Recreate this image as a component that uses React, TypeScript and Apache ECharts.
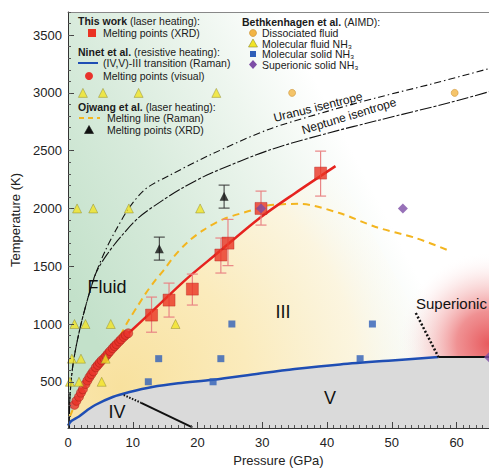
import React, { useEffect, useRef } from "react";
import * as echarts from "echarts";

const X_MIN = 0, X_MAX = 65, Y_MIN = 100, Y_MAX = 3700;
const xTickLabels = [0, 10, 20, 30, 40, 50, 60];
const yTickLabels = [500, 1000, 1500, 2000, 2500, 3000, 3500];

// This work (laser heating)
const thisWorkMelting = [[12.9, 1077], [15.6, 1207], [19.2, 1302], [23.6, 1597], [24.7, 1700], [29.8, 2000], [39.0, 2306]];
const thisWorkErrors = [[12.9, 929, 1233], [15.6, 1060, 1354], [19.2, 1164, 1432], [23.6, 1441, 1744], [24.7, 1505, 1905], [29.8, 1856, 2150], [39.0, 2107, 2496]];
const thisWorkMeltLine = [[9.3, 918], [13, 1110], [18.1, 1380], [23, 1610], [29.6, 1917], [35, 2130], [41.3, 2366]];

// Ninet et al.
const ninetTransition = [[0, 120], [0.5, 160], [1.7, 200], [3, 255], [4.2, 299], [6.9, 368], [9.5, 411], [13, 455], [17, 487], [22.4, 518], [29.6, 572], [35, 610], [42, 650], [50, 685], [57.2, 714]];
const ninetMelting = [[1.0, 300], [1.3, 335], [1.7, 370], [2.0, 405], [2.3, 435], [2.7, 480], [3.0, 510], [3.3, 540], [3.6, 565], [3.9, 590], [4.3, 625], [4.6, 645], [4.9, 665], [5.2, 685], [5.6, 705], [5.9, 725], [6.2, 745], [6.5, 765], [6.9, 790], [7.2, 808], [7.5, 825], [7.9, 848], [8.2, 866], [8.6, 888], [8.9, 905], [9.3, 920]];

// Ojwang et al.
const ojwangMeltLine = [[0.3, 200], [2, 420], [4, 620], [6, 760], [7.9, 887], [9.2, 1017], [10.8, 1160], [12, 1265], [13.5, 1380], [14.7, 1460], [16.3, 1580], [18.5, 1710], [20.9, 1813], [24, 1908], [28.5, 1986], [30.7, 2025], [35.7, 2040], [41.9, 1960], [47.5, 1840], [53.7, 1744], [59, 1631]];
const ojwangMelting = [[14.1, 1652], [24.1, 2105]];
const ojwangErrors = [[14.1, 1553, 1752], [24.1, 2003, 2202]];

// Bethkenhagen et al. (AIMD)
const bethDissociated = [[34.6, 3000], [59.7, 3000]];
const bethMolFluid = [[2.3, 3000], [5.4, 3000], [10.9, 3000], [22.9, 3000], [1.4, 2000], [3.9, 2000], [9.4, 2000], [20.4, 2000], [1.0, 1000], [2.7, 1000], [6.6, 1000], [16.6, 1000], [0.6, 700], [2.0, 700], [5.8, 700], [0.3, 500], [1.7, 500], [5.2, 500]];
const bethMolSolid = [[25.3, 1000], [47, 1000], [14.0, 700], [23.6, 700], [45.1, 700], [12.4, 500], [22.4, 500]];
const bethSuperionic = [[29.8, 2000], [51.7, 2000], [65, 712]];

// Phase boundaries
const ivVDotted = [[8.6, 385], [11.3, 318]];
const ivVSolid = [[11.3, 318], [19.2, 105]];
const superionicDotted = [[53.7, 1095], [57.2, 714]];
const superionicSolid = [[57.2, 714], [65, 714]];
const superionicGlowCenter = [65, 830];

// Isentropes
const uranusIsentrope = [[0.2, 100], [0.3, 370], [0.8, 660], [1.8, 950], [3.1, 1230], [4.3, 1440], [5.8, 1640], [7.4, 1813], [9.5, 2010], [12, 2170], [15.8, 2290], [21.9, 2462], [30.7, 2678], [40, 2840], [48, 2963], [56, 3075], [65, 3210]];
const neptuneIsentrope = [[0.2, 100], [0.3, 370], [0.8, 660], [1.8, 950], [3.1, 1230], [4.3, 1440], [6, 1600], [8.1, 1752], [11, 1925], [14.6, 2070], [17.6, 2175], [21.9, 2300], [31.1, 2505], [40, 2650], [48, 2764], [59.2, 2920], [65, 3010]];

const FONT = "'Liberation Sans', Arial, Helvetica, sans-serif";
const TXT = "#1a1a1a";
const LFS = 10.5;

function line(name: string, data: number[][], color: string, width: number, type: any, smooth: number | boolean = 0.3, z = 3) {
  return {
    name, type: "line", data, smooth, symbol: "none", showSymbol: false, z, silent: true,
    lineStyle: { color, width, type },
  };
}

function errorSeries(name: string, data: number[][], color: string, width: number) {
  return {
    name, type: "custom", data, z: 4, silent: true,
    encode: { x: 0, y: [1, 2] },
    renderItem: (params: any, api: any) => {
      const x = api.value(0), lo = api.value(1), hi = api.value(2);
      const a = api.coord([x, lo]);
      const b = api.coord([x, hi]);
      const st = { stroke: color, lineWidth: width };
      return {
        type: "group",
        children: [
          { type: "line", shape: { x1: a[0], y1: a[1], x2: b[0], y2: b[1] }, style: st },
          { type: "line", shape: { x1: a[0] - 5.5, y1: a[1], x2: a[0] + 5.5, y2: a[1] }, style: st },
          { type: "line", shape: { x1: b[0] - 5.5, y1: b[1], x2: b[0] + 5.5, y2: b[1] }, style: st },
        ],
      };
    },
  };
}

function legendText(x: number, y: number, text: string) {
  return { type: "text", x, y, z: 100, style: { text, fontSize: LFS, fontFamily: FONT, fill: TXT, textAlign: "left", verticalAlign: "middle", lineHeight: 10 } };
}
function legendHeader(x: number, y: number, bold: string, rest: string) {
  return {
    type: "text", x, y, z: 100,
    style: {
      text: `{b|${bold}}{n|${rest}}`, textAlign: "left", verticalAlign: "middle", fontSize: LFS, fontFamily: FONT, fill: TXT,
      rich: {
        b: { fontSize: LFS, fontFamily: FONT, fontWeight: "bold", fill: TXT },
        n: { fontSize: LFS, fontFamily: FONT, fill: TXT },
      },
    },
  };
}
function tri(x: number, y: number, fill: string, stroke: string) {
  return { type: "polygon", z: 100, shape: { points: [[x, y - 4.5], [x + 4.5, y + 3.5], [x - 4.5, y + 3.5]] }, style: { fill, stroke, lineWidth: 0.6 } };
}
function label(x: number, y: number, text: string, size: number, extra: any = {}) {
  return { type: "text", x, y, z: 100, ...extra, style: { text, fontSize: size, fontFamily: FONT, fill: "#111", textAlign: "center", verticalAlign: "middle", ...(extra.style || {}) } };
}

export default function App() {
  const ref = useRef<HTMLDivElement>(null);
  useEffect(() => {
    document.body.style.margin = "0";
    if (!ref.current) return;
    const chart = echarts.init(ref.current, undefined, { renderer: "svg" });

    const bgGreen = {
      type: "custom", z: 1, silent: true, clip: true, data: [[X_MIN, Y_MIN]],
      renderItem: (params: any, api: any) => {
        const p0 = api.coord([X_MIN, Y_MIN]);
        const p1 = api.coord([X_MAX, Y_MAX]);
        return {
          type: "rect",
          shape: { x: p0[0], y: p1[1], width: p1[0] - p0[0], height: p0[1] - p1[1] },
          style: {
            fill: new echarts.graphic.LinearGradient(p0[0], p0[1] - 140, p0[0] + 280, p1[1] + 130, [
              { offset: 0, color: "#c3e1ca" },
              { offset: 0.4, color: "#d8ebdc" },
              { offset: 0.75, color: "#eef6ef" },
              { offset: 1, color: "#ffffff" },
            ], true),
          },
        };
      },
    };

    const bgYellow = {
      type: "custom", z: 1, silent: true, clip: true, data: [[X_MIN, Y_MIN]],
      renderItem: (params: any, api: any) => {
        const poly = [
          ...ninetTransition,
          ...superionicDotted.slice().reverse(),
          ...thisWorkMeltLine.slice().reverse(),
          ...ninetMelting.slice().reverse(),
        ].map((p) => api.coord(p));
        const c = api.coord([8, 450]);
        return {
          type: "polygon",
          shape: { points: poly },
          style: {
            fill: new echarts.graphic.RadialGradient(c[0], c[1], 320, [
              { offset: 0, color: "rgba(248,225,158,1)" },
              { offset: 0.4, color: "rgba(251,235,188,1)" },
              { offset: 0.75, color: "rgba(253,245,222,0.9)" },
              { offset: 1, color: "rgba(255,255,255,0)" },
            ], true),
          },
        };
      },
    };

    const bgGlow = {
      type: "custom", z: 1, silent: true, clip: true, data: [superionicGlowCenter],
      renderItem: (params: any, api: any) => {
        const c = api.coord(superionicGlowCenter);
        return {
          type: "circle",
          shape: { cx: c[0], cy: c[1], r: 92 },
          style: {
            fill: new echarts.graphic.RadialGradient(c[0], c[1], 92, [
              { offset: 0, color: "rgba(230,80,84,0.95)" },
              { offset: 0.35, color: "rgba(236,118,120,0.8)" },
              { offset: 0.7, color: "rgba(246,190,190,0.4)" },
              { offset: 1, color: "rgba(255,255,255,0)" },
            ], true),
          },
        };
      },
    };

    const bgGrey = {
      type: "custom", z: 1, silent: true, clip: true, data: [[X_MIN, Y_MIN]],
      renderItem: (params: any, api: any) => {
        const poly = [...ninetTransition, ...superionicSolid, [X_MAX, Y_MIN], [X_MIN, Y_MIN]].map((p) => api.coord(p));
        return { type: "polygon", shape: { points: poly }, style: { fill: "#dadada" } };
      },
    };

    const axisLineStyle = { color: "#333", width: 1 };

    const option: any = {
      animation: false,
      grid: { left: 68, top: 12, width: 422, height: 416, containLabel: false },
      xAxis: [
        {
          type: "value", min: X_MIN, max: X_MAX, interval: 10, z: 10,
          name: "Pressure (GPa)", nameLocation: "middle", nameGap: 25,
          nameTextStyle: { fontSize: 13, fontFamily: FONT, color: "#222" },
          axisLine: { show: true, onZero: false, lineStyle: axisLineStyle },
          axisTick: { show: true, inside: true, length: 6, lineStyle: { color: "#444" } },
          minorTick: { show: true, splitNumber: 10, length: 3, lineStyle: { color: "#555" } },
          axisLabel: { customValues: xTickLabels, fontSize: 13, fontFamily: FONT, color: "#222", margin: 8, formatter: (v: number) => String(v) },
          splitLine: { show: false },
        },
        {
          type: "value", min: X_MIN, max: X_MAX, position: "top", z: 10,
          axisLine: { show: true, onZero: false, lineStyle: { color: "#888", width: 1 } },
          axisTick: { show: false }, axisLabel: { show: false }, splitLine: { show: false },
        },
      ],
      yAxis: [
        {
          type: "value", min: Y_MIN, max: Y_MAX, z: 10,
          name: "Temperature (K)", nameLocation: "middle", nameGap: 38,
          nameTextStyle: { fontSize: 13, fontFamily: FONT, color: "#222" },
          axisLine: { show: true, onZero: false, lineStyle: axisLineStyle },
          axisTick: { show: true, inside: true, length: 6, customValues: yTickLabels, lineStyle: { color: "#444" } },
          axisLabel: { customValues: yTickLabels, fontSize: 13, fontFamily: FONT, color: "#222", margin: 6, formatter: (v: number) => String(v) },
          splitLine: { show: false },
        },
        {
          type: "value", min: Y_MIN, max: Y_MAX, interval: 100, position: "left", z: 10,
          axisLine: { show: false },
          axisTick: { show: true, inside: true, length: 3, lineStyle: { color: "#555" } },
          axisLabel: { show: false }, splitLine: { show: false },
        },
      ],
      series: [
        bgGreen,
        bgYellow,
        bgGlow,
        bgGrey,
        line("Uranus isentrope", uranusIsentrope, "#111", 1.1, [7, 3, 1.5, 3]),
        line("Neptune isentrope", neptuneIsentrope, "#111", 1.1, [12, 2, 3, 2]),
        line("Melting line (Raman)", ojwangMeltLine, "#f3b51f", 2, [7, 5]),
        line("(IV,V)-III transition (Raman)", ninetTransition, "#1f4eb4", 2.5, "solid"),
        line("IV-V dotted", ivVDotted, "#111", 2, [1.5, 1.5], false),
        line("IV-V", ivVSolid, "#111", 2, "solid", false),
        line("Superionic dotted", superionicDotted, "#111", 2.5, [2, 2], false),
        line("Superionic boundary", superionicSolid, "#111", 2, "solid", false),
        line("This work melting line", thisWorkMeltLine, "#e6231f", 2.5, "solid"),
        errorSeries("This work errors", thisWorkErrors, "#e98585", 1.2),
        errorSeries("Ojwang errors", ojwangErrors, "#333", 1),
        {
          name: "Melting points (visual)", type: "scatter", data: ninetMelting, symbol: "circle", symbolSize: 9, z: 5,
          itemStyle: { color: "#e8322b", borderColor: "#a31a12", borderWidth: 0.6 },
        },
        {
          name: "Melting points (XRD)", type: "scatter", data: thisWorkMelting, symbol: "rect", symbolSize: 12, z: 5,
          itemStyle: { color: "#ea3323", borderColor: "#b52020", borderWidth: 0.5 },
        },
        {
          name: "Ojwang melting points (XRD)", type: "scatter", data: ojwangMelting, symbol: "triangle", symbolSize: 9, z: 5,
          itemStyle: { color: "#111" },
        },
        {
          name: "Dissociated fluid", type: "scatter", data: bethDissociated, symbol: "circle", symbolSize: 7, z: 6,
          itemStyle: { color: "#f2b545", borderColor: "#c48a2a", borderWidth: 0.6 },
        },
        {
          name: "Molecular fluid NH₃", type: "scatter", data: bethMolFluid, symbol: "triangle", symbolSize: 9, z: 6,
          itemStyle: { color: "#f1e426", borderColor: "#8d8a2e", borderWidth: 0.6 },
        },
        {
          name: "Molecular solid NH₃", type: "scatter", data: bethMolSolid, symbol: "rect", symbolSize: 7, z: 6,
          itemStyle: { color: "#2f5fb8" },
        },
        {
          name: "Superionic solid NH₃", type: "scatter", data: bethSuperionic, symbol: "diamond", symbolSize: 10, z: 6,
          itemStyle: { color: "#7d4ea6" },
        },
      ],
      graphic: [
        // left legend
        legendHeader(78, 21, "This work", " (laser heating):"),
        { type: "rect", z: 100, shape: { x: 88, y: 29, width: 8, height: 8 }, style: { fill: "#ea3323" } },
        legendText(103, 33, "Melting points (XRD)"),
        legendHeader(78, 52, "Ninet et al.", " (resistive heating):"),
        { type: "line", z: 100, shape: { x1: 78, y1: 63, x2: 98, y2: 63 }, style: { stroke: "#1f4eb4", lineWidth: 2 } },
        legendText(103, 63, "(IV,V)-III transition (Raman)"),
        { type: "circle", z: 100, shape: { cx: 89, cy: 76, r: 4 }, style: { fill: "#e8322b" } },
        legendText(103, 76, "Melting points (visual)"),
        legendHeader(78, 107, "Ojwang et al.", " (laser heating):"),
        { type: "line", z: 100, shape: { x1: 79, y1: 118, x2: 100, y2: 118 }, style: { stroke: "#f3b51f", lineWidth: 2, lineDash: [5, 4] } },
        legendText(107, 118, "Melting line (Raman)"),
        tri(89, 130, "#111", "#111"),
        legendText(107, 130, "Melting points (XRD)"),
        // right legend
        legendHeader(242, 22, "Bethkenhagen et al.", " (AIMD):"),
        { type: "circle", z: 100, shape: { cx: 253, cy: 33, r: 3.5 }, style: { fill: "#f2b545", stroke: "#c48a2a", lineWidth: 0.6 } },
        legendText(262, 33, "Dissociated fluid"),
        tri(253, 43.5, "#f1e426", "#8d8a2e"),
        legendText(262, 43.5, "Molecular fluid NH₃"),
        { type: "rect", z: 100, shape: { x: 250, y: 51, width: 6, height: 6 }, style: { fill: "#2f5fb8" } },
        legendText(262, 54, "Molecular solid NH₃"),
        { type: "polygon", z: 100, shape: { points: [[253, 60], [257, 64.5], [253, 69], [249, 64.5]] }, style: { fill: "#7d4ea6" } },
        legendText(262, 64.5, "Superionic solid NH₃"),
        // region labels
        label(107, 287, "Fluid", 18),
        label(283, 312, "III", 18),
        label(117, 412, "IV", 18),
        label(330, 398, "V", 18),
        { type: "text", x: 416, y: 303, z: 100, style: { text: "Superionic", fontSize: 15, fontFamily: FONT, fill: "#111", textAlign: "left", verticalAlign: "middle" } },
        label(318, 107, "Uranus isentrope", 12, { rotation: (14 * Math.PI) / 180 }),
        label(349, 116, "Neptune isentrope", 12, { rotation: (17 * Math.PI) / 180 }),
      ],
    };
    chart.setOption(option);
    return () => chart.dispose();
  }, []);
  return <div ref={ref} style={{ width: 489, height: 474 }} />;
}
